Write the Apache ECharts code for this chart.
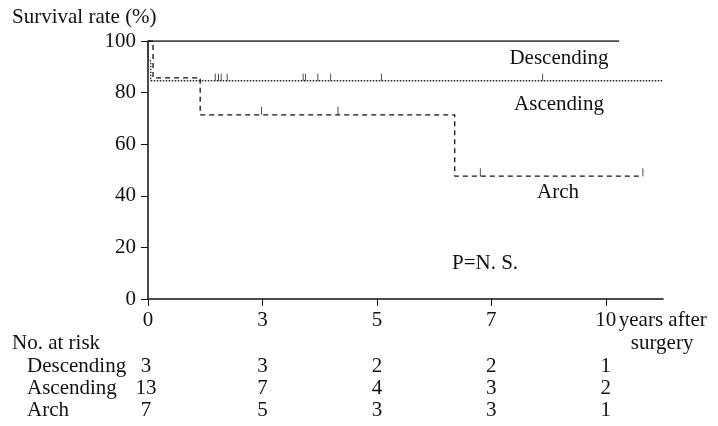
<!DOCTYPE html>
<html><head><meta charset="utf-8">
<script src="https://cdn.jsdelivr.net/npm/echarts@6/dist/echarts.min.js"></script>
<style>html,body{margin:0;padding:0;background:#fff}#c{width:718px;height:426px}</style>
</head><body><div id="c"></div>
<script>
// ---- data ----
const xTickValues = [0, 2.5, 5, 7.5, 10];
const xTickLabels = ['0', '3', '5', '7', '10'];
const descending = [[0, 100], [10.29, 100]];
const ascending = [[0, 100], [0.01, 92.3], [0.06, 84.6], [11.24, 84.6]];
const arch = [[0, 100], [0.11, 85.7], [1.14, 71.4], [6.70, 47.6], [10.81, 47.6]];
const ascendingCensor = [[1.47, 84.6], [1.54, 84.6], [1.60, 84.6], [1.73, 84.6], [3.39, 84.6], [3.44, 84.6], [3.71, 84.6], [3.99, 84.6], [5.10, 84.6], [8.62, 84.6]];
const archCensor = [[2.48, 71.4], [4.15, 71.4], [7.26, 47.6], [10.81, 47.6]];
const riskGroups = ['Descending', 'Ascending', 'Arch'];
const riskDescending = [3, 3, 2, 2, 1];
const riskAscending = [13, 7, 4, 3, 2];
const riskArch = [7, 5, 3, 3, 1];

const FONT = "'Liberation Serif','Times New Roman',serif";
const FS = 21;
const INK = '#111';
const chart = echarts.init(document.getElementById('c'), null, {renderer: 'canvas'});

function txt(x, y, s, align) {
  return {type: 'text', x: x, y: y, silent: true,
    style: {text: s, fontFamily: FONT, fontSize: FS, fill: INK, align: align || 'left', verticalAlign: 'middle'}};
}

const option = {
  animation: false,
  backgroundColor: '#fff',
  grid: {left: 148, right: 55, top: 41, bottom: 127},
  xAxis: {
    type: 'value', min: 0, max: 11.25,
    axisLine: {show: true, lineStyle: {color: INK, width: 1.5}},
    axisTick: {show: true, length: 7, inside: false, customValues: xTickValues, lineStyle: {color: INK, width: 1}},
    axisLabel: {show: true, customValues: xTickValues, margin: 11, fontFamily: FONT, fontSize: FS, color: INK,
      formatter: v => { const i = xTickValues.indexOf(v); return i >= 0 ? xTickLabels[i] : ''; }},
    splitLine: {show: false}
  },
  yAxis: {
    type: 'value', min: 0, max: 100, interval: 20,
    axisLine: {show: true, lineStyle: {color: INK, width: 1.5}},
    axisTick: {show: true, length: 7, lineStyle: {color: INK, width: 1}},
    axisLabel: {margin: 12, fontFamily: FONT, fontSize: FS, color: INK},
    splitLine: {show: false}
  },
  series: [
    {type: 'line', name: 'Descending', data: descending, step: 'end', symbol: 'none',
      lineStyle: {color: INK, width: 1.5, type: 'solid'}},
    {type: 'line', name: 'Ascending', data: ascending, step: 'end', symbol: 'none',
      lineStyle: {color: '#222', width: 1.3, type: [1.5, 1.5]}},
    {type: 'line', name: 'Arch', data: arch, step: 'end', symbol: 'none',
      lineStyle: {color: INK, width: 1.3, type: [5, 4]}},
    {type: 'scatter', data: ascendingCensor, symbol: 'rect', symbolSize: [1, 7], symbolOffset: [0, -3.5],
      itemStyle: {color: '#222'}},
    {type: 'scatter', data: archCensor, symbol: 'rect', symbolSize: [1, 8], symbolOffset: [0, -4],
      itemStyle: {color: '#222'}}
  ]
};
chart.setOption(option);

// texts and the risk table, placed on the axis scale
const g = [];
g.push(txt(12, 17, 'Survival rate (%)'));
g.push(txt(559, 58, 'Descending', 'center'));
g.push(txt(559, 104, 'Ascending', 'center'));
g.push(txt(558, 192, 'Arch', 'center'));
g.push(txt(452, 263, 'P=N. S.'));
const x10 = chart.convertToPixel({xAxisIndex: 0}, 10);
g.push(txt(x10 + 13, 320, 'years after'));
g.push(txt(x10 + 25, 343, 'surgery'));
g.push(txt(12, 343, 'No. at risk'));
const rows = [riskDescending, riskAscending, riskArch];
const rowY = [366, 388, 410];
riskGroups.forEach((name, r) => {
  g.push(txt(27, rowY[r], name));
  rows[r].forEach((n, i) => {
    const px = chart.convertToPixel({xAxisIndex: 0}, xTickValues[i]);
    g.push(txt(px - (i === 0 ? 2 : 0), rowY[r], String(n), 'center'));
  });
});
chart.setOption({graphic: g});
</script>
</body></html>
